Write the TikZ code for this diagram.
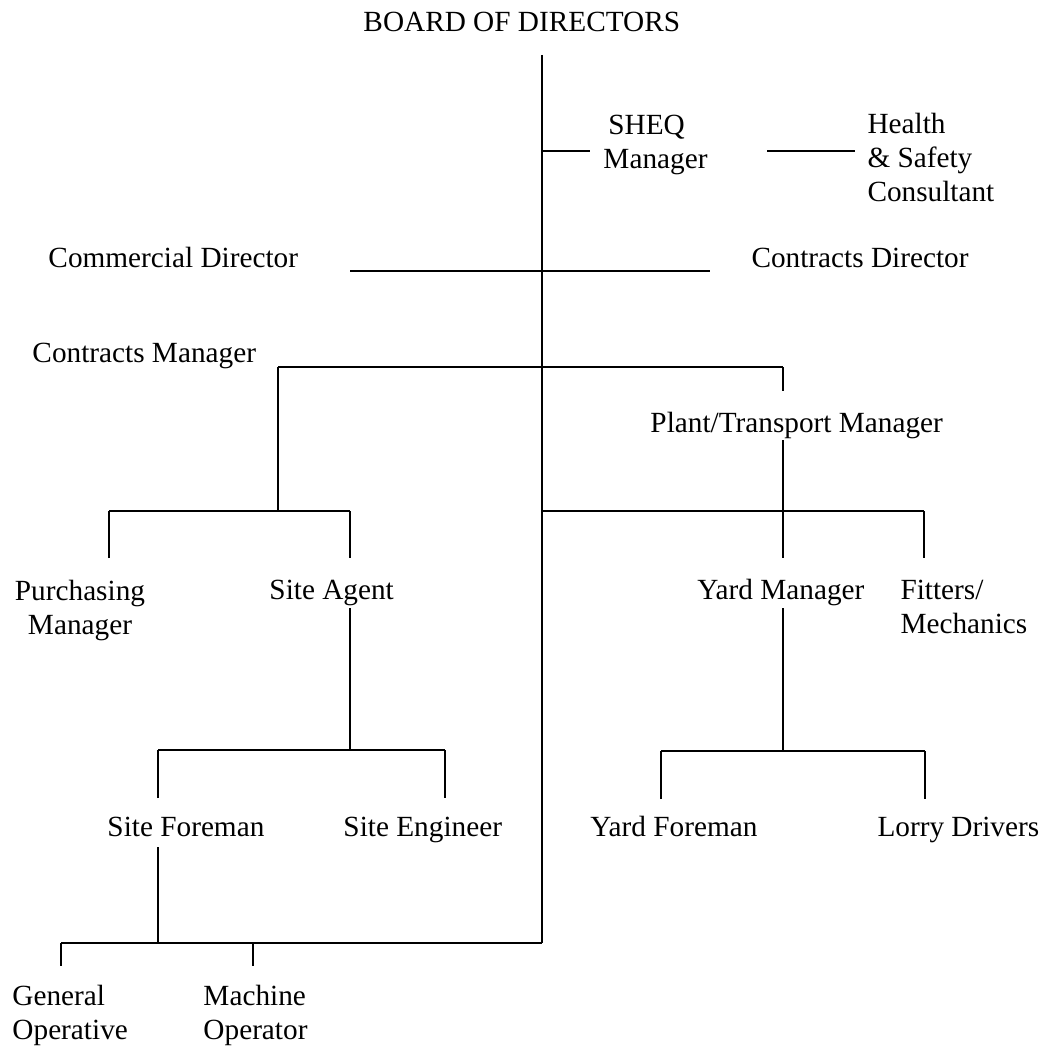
\documentclass[tikz,border=0pt]{standalone}
\usepackage{fontspec}
\setmainfont{Liberation Serif}
\usepackage{tikz}
\usetikzlibrary{positioning, calc}

\begin{document}
\begin{tikzpicture}[
  x=0.41pt, y=-0.41pt,
  lbl/.style={inner sep=0pt, font=\fontsize{12}{13.8}\selectfont},
  one/.style={lbl, anchor=base west},
  stack/.style={lbl, align=center, anchor=north},
  lstack/.style={lbl, align=left, anchor=north west},
  wire/.style={line width=0.65pt},
  bar/.style={line width=1pt},
]
\useasboundingbox (0,0) rectangle (1043,1046);

% Top
\node[one] (board) at (363,32) {BOARD OF DIRECTORS};
\node[lstack] (sheq) at (603,115) {\hspace{2pt}SHEQ\\Manager};
\node[lstack] (hsc) at (867,113) {Health\\\& Safety\\Consultant};
\node[one] (comdir) at (48,268) {Commercial Director};
\node[one] (condir) at (751,268) {Contracts Director};

% Middle
\node[one] (conmgr) at (32,362) {Contracts Manager};
\node[one] (plant) at (650,432) {Plant/Transport Manager};
\node[stack] (purch) at (80,580) {Purchasing\\Manager};
\node[one] (agent) at (269,599) {Site Agent};
\node[one] (yardmgr) at (697,599) {Yard Manager};
\node[lstack] (fitters) at (900,580) {Fitters/\\Mechanics};

% Bottom
\node[one] (sforeman) at (107,836) {Site Foreman};
\node[one] (sengineer) at (343,836) {Site Engineer};
\node[one] (yforeman) at (590,836) {Yard Foreman};
\node[one] (lorry) at (877,836) {Lorry Drivers};
\node[lstack] (general) at (12,985) {General\\Operative};
\node[lstack] (machine) at (203,985) {Machine\\Operator};

% Junctions
\coordinate (top) at (542,55);
\coordinate (bot) at (542,943);
\coordinate (sheqL) at (542,151);
\coordinate (sheqR) at (590,151);
\coordinate (hscL) at (767,151);
\coordinate (hscR) at (855,151);
\coordinate (dirL) at (350,271);
\coordinate (dirR) at (710,271);
\coordinate (cmL) at (278,367);
\coordinate (cmR) at (783,367);
\coordinate (plantT) at (783,391);
\coordinate (plantB) at (783,440);
\coordinate (ymT) at (783,558);
\coordinate (leftJ) at (278,511);
\coordinate (purchT) at (109,558);
\coordinate (agentT) at (350,558);
\coordinate (rightJ) at (542,511);
\coordinate (fitT) at (924,558);
\coordinate (agentB) at (350,608);
\coordinate (agentJ) at (350,750);
\coordinate (sfT) at (158,798);
\coordinate (seT) at (445,798);
\coordinate (ymB) at (783,608);
\coordinate (ymJ) at (783,751);
\coordinate (yfT) at (661,799);
\coordinate (ldT) at (925,799);
\coordinate (sfB) at (158,847);
\coordinate (sfJ) at (158,943);
\coordinate (goT) at (61,966);
\coordinate (moT) at (253,966);

% Lines
\draw[wire] (top) -- (bot);
\draw[bar] (sheqL) -- (sheqR);
\draw[bar] (hscL) -- (hscR);
\draw[bar] (dirL) -- (dirR);
\draw[wire] (leftJ) -- (cmL);
\draw[bar] (cmL) -- (cmR);
\draw[wire] (cmR) -- (plantT);
\draw[wire] (plantB) -- (ymT);
\draw[wire] (purchT) -- (purchT |- leftJ);
\draw[bar] (purchT |- leftJ) -- (agentT |- leftJ);
\draw[wire] (agentT |- leftJ) -- (agentT);
\draw[bar] (rightJ) -- (fitT |- rightJ);
\draw[wire] (fitT |- rightJ) -- (fitT);
\draw[wire] (agentB) -- (agentJ);
\draw[wire] (sfT) -- (sfT |- agentJ);
\draw[bar] (sfT |- agentJ) -- (seT |- agentJ);
\draw[wire] (seT |- agentJ) -- (seT);
\draw[wire] (ymB) -- (ymJ);
\draw[wire] (yfT) -- (yfT |- ymJ);
\draw[bar] (yfT |- ymJ) -- (ldT |- ymJ);
\draw[wire] (ldT |- ymJ) -- (ldT);
\draw[wire] (sfB) -- (sfJ);
\draw[bar] (goT |- bot) -- (bot);
\draw[wire] (goT |- bot) -- (goT);
\draw[wire] (moT |- bot) -- (moT);

\end{tikzpicture}
\end{document}
